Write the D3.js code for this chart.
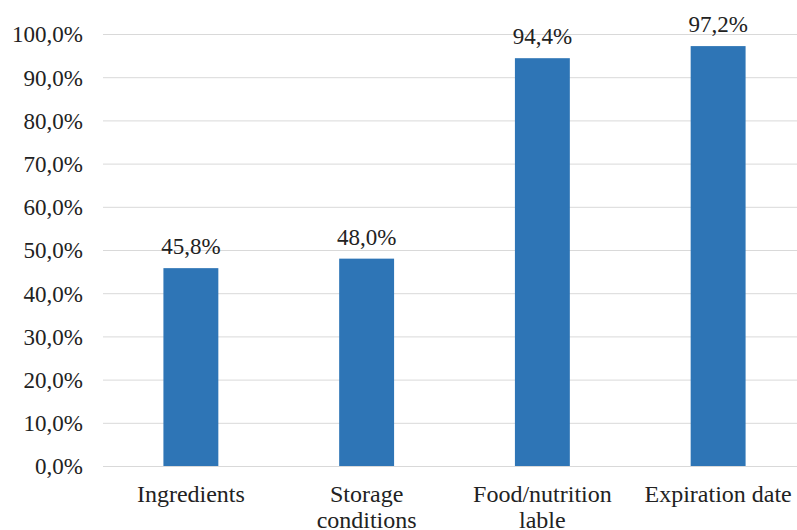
<!DOCTYPE html>
<html>
<head>
<meta charset="utf-8">
<script src="https://cdn.jsdelivr.net/npm/d3@7/dist/d3.min.js"></script>
<style>
  html, body { margin: 0; padding: 0; background: #fff; }
  svg { display: block; }
</style>
</head>
<body>
<svg id="chart" width="797" height="530"></svg>
<script>
// Share of respondents paying attention to each label element (%)
const categories = [["Ingredients"], ["Storage", "conditions"], ["Food/nutrition", "lable"], ["Expiration date"]];
const values = [45.8, 48.0, 94.4, 97.2];
const yTicks = [0, 10, 20, 30, 40, 50, 60, 70, 80, 90, 100];

const svg = d3.select("#chart");
const W = 797;
const plot = { left: 103, right: 806, top: 34, bottom: 466 };
const fontSize = 23;
const catFontSize = 24;
const serif = "Liberation Serif";
const ink = "#222";

const keys = categories.map(c => c.join(" "));

const x = d3.scaleBand()
  .domain(keys)
  .range([plot.left, plot.right])
  .paddingInner(0.6875)
  .paddingOuter(0.34375);

const y = d3.scaleLinear()
  .domain([0, 100])
  .range([plot.bottom, plot.top]);

const fmt = v => d3.format(".1f")(v).replace(".", ",") + "%";

// Horizontal gridlines
svg.append("g")
  .selectAll("line")
  .data(yTicks)
  .join("line")
  .attr("x1", plot.left)
  .attr("x2", W)
  .attr("y1", d => y(d) + 0.5)
  .attr("y2", d => y(d) + 0.5)
  .attr("stroke", "#d9d9d9")
  .attr("stroke-width", 1);

// Y axis labels
const yAxis = d3.axisLeft(y).tickValues(yTicks).tickFormat(fmt).tickSize(0).tickPadding(20);
const yg = svg.append("g").attr("transform", `translate(${plot.left},0)`).call(yAxis);
yg.select(".domain").remove();
yg.attr("font-family", null).attr("font-size", null);
yg.selectAll("text")
  .attr("font-family", serif)
  .attr("font-size", fontSize)
  .attr("fill", ink)
  .attr("dy", "0.34em");

// Bars
svg.append("g")
  .selectAll("rect")
  .data(values)
  .join("rect")
  .attr("x", (d, i) => x(keys[i]))
  .attr("width", x.bandwidth())
  .attr("y", d => y(d))
  .attr("height", d => y(0) - y(d))
  .attr("fill", "#2e75b6");

// Value labels
svg.append("g")
  .selectAll("text")
  .data(values)
  .join("text")
  .attr("font-family", serif)
  .attr("font-size", fontSize)
  .attr("fill", ink)
  .attr("x", (d, i) => x(keys[i]) + x.bandwidth() / 2)
  .attr("y", d => y(d) - 14)
  .attr("text-anchor", "middle")
  .text(d => fmt(d));

// Category labels (wrapped lines)
const xl = svg.append("g")
  .selectAll("text")
  .data(categories)
  .join("text")
  .attr("font-family", serif)
  .attr("font-size", catFontSize)
  .attr("fill", ink)
  .attr("text-anchor", "middle")
  .attr("x", (d, i) => x(keys[i]) + x.bandwidth() / 2)
  .attr("y", 502);
xl.selectAll("tspan")
  .data(d => d)
  .join("tspan")
  .attr("x", function () { return d3.select(this.parentNode).attr("x"); })
  .attr("dy", (d, i) => i === 0 ? 0 : 26)
  .text(d => d);
</script>
</body>
</html>
